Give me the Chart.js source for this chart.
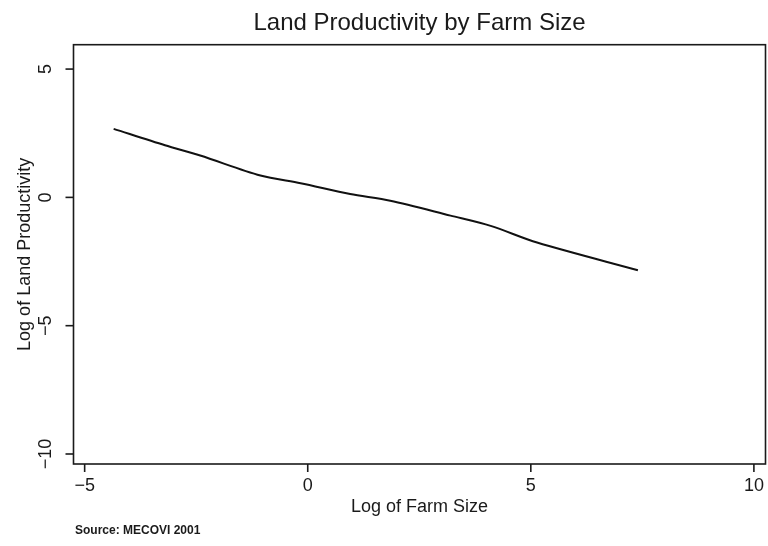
<!DOCTYPE html>
<html>
<head>
<meta charset="utf-8">
<script src="https://cdn.jsdelivr.net/npm/chart.js@4.4.1/dist/chart.umd.min.js"></script>
<style>
    html, body { margin: 0; padding: 0; background: #fff; }
    #wrap { width: 768px; height: 546px; position: relative; }
</style>
</head>
<body>
<div id="wrap"><canvas id="farmChart"></canvas></div>
<script>
// Values
const farmSize = [-4.35, -3.2, -2.41, -1.06, -0.16, 0.95, 1.85, 3.2, 4.1, 5.14, 7.4];
const landProductivity = [2.67, 2.03, 1.63, 0.85, 0.55, 0.13, -0.13, -0.71, -1.11, -1.76, -2.84];
const xTicks = [-5, 0, 5, 10];
const yTicks = [-10, -5, 0, 5];

const titleText = 'Land Productivity by Farm Size';
const xTitle = 'Log of Farm Size';
const yTitle = 'Log of Land Productivity';
const noteText = 'Source: MECOVI 2001';

const FONT = '"Liberation Sans", Arial, Helvetica, sans-serif';

// Stata-style frame, ticks and labels
const stataFrame = {
    id: 'stataFrame',
    afterDraw(chart) {
        const ctx = chart.ctx;
        const area = chart.chartArea;
        const xs = chart.scales.x;
        const ys = chart.scales.y;
        ctx.save();
        ctx.strokeStyle = '#1a1a1a';
        ctx.lineWidth = 1.6;
        ctx.strokeRect(area.left, area.top, area.right - area.left, area.bottom - area.top);

        ctx.fillStyle = '#1a1a1a';
        ctx.font = '18px ' + FONT;

        // x ticks
        ctx.textAlign = 'center';
        ctx.textBaseline = 'middle';
        xTicks.forEach(v => {
            const px = xs.getPixelForValue(v);
            ctx.beginPath();
            ctx.moveTo(px, area.bottom);
            ctx.lineTo(px, area.bottom + 8);
            ctx.stroke();
            ctx.fillText(String(v).replace('-', '\u2212'), px, area.bottom + 22);
        });

        // y ticks, labels rotated
        yTicks.forEach(v => {
            const py = ys.getPixelForValue(v);
            ctx.beginPath();
            ctx.moveTo(area.left, py);
            ctx.lineTo(area.left - 8, py);
            ctx.stroke();
            ctx.save();
            ctx.translate(area.left - 27, py);
            ctx.rotate(-Math.PI / 2);
            ctx.fillText(String(v).replace('-', '\u2212'), 0, 0);
            ctx.restore();
        });

        // axis titles
        const midX = (area.left + area.right) / 2;
        const midY = (area.top + area.bottom) / 2;
        ctx.fillText(xTitle, midX, 507);
        ctx.save();
        ctx.translate(25, midY);
        ctx.rotate(-Math.PI / 2);
        ctx.fillText(yTitle, 0, 0);
        ctx.restore();

        // main title
        ctx.font = '24px ' + FONT;
        ctx.fillText(titleText, midX, 23);

        // note
        ctx.font = 'bold 12px ' + FONT;
        ctx.textAlign = 'left';
        ctx.fillText(noteText, 75, 531);
        ctx.restore();
    }
};

new Chart(document.getElementById('farmChart'), {
    type: 'line',
    data: {
        datasets: [{
            data: farmSize.map((x, i) => ({ x: x, y: landProductivity[i] })),
            borderColor: '#111',
            borderWidth: 2,
            pointRadius: 0,
            tension: 0.3,
            fill: false
        }]
    },
    options: {
        responsive: true,
        maintainAspectRatio: false,
        animation: false,
        layout: {
            padding: { left: 73.5, top: 44.7, right: 2.5, bottom: 82 }
        },
        scales: {
            x: { type: 'linear', min: -5.25, max: 10.26, display: false },
            y: { type: 'linear', min: -10.39, max: 5.95, display: false }
        },
        plugins: {
            legend: { display: false },
            tooltip: { enabled: false }
        }
    },
    plugins: [stataFrame]
});
</script>
</body>
</html>
